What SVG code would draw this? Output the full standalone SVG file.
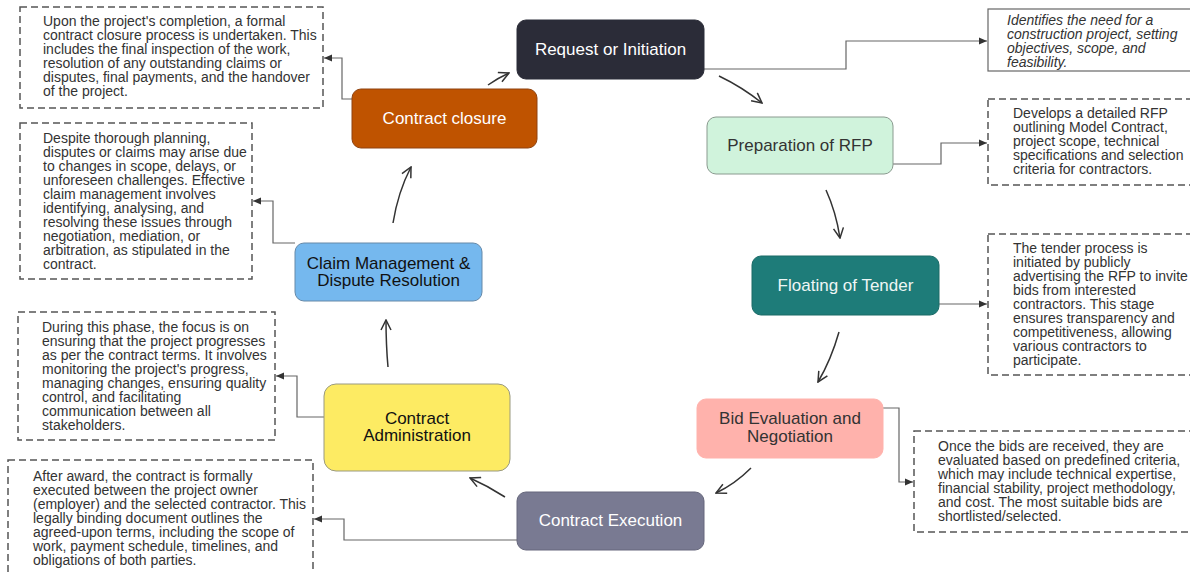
<svg xmlns="http://www.w3.org/2000/svg" width="1190" height="573" viewBox="0 0 1190 573">
<style>
.bg{fill:#ffffff}
.node{stroke-width:1}
.nt{font-family:"Liberation Sans",Arial,sans-serif;font-size:17px;text-anchor:middle}
.note{fill:#ffffff;stroke:#555555;stroke-width:1.5;stroke-dasharray:7,4}
.notes{fill:#ffffff;stroke:#666666;stroke-width:1.2}
.tx{font-family:"Liberation Sans",Arial,sans-serif;font-size:14px;fill:#333333}
.it{font-style:italic}
.link{fill:none;stroke:#666666;stroke-width:1.2;marker-end:url(#tri)}
.flow{fill:none;stroke:#333333;stroke-width:1.5;marker-end:url(#vee)}
</style>
<defs>
<marker id="tri" viewBox="0 0 8 8" refX="8" refY="4" markerWidth="8" markerHeight="8" markerUnits="userSpaceOnUse" orient="auto">
<path d="M0,0.5 L8,4 L0,7.5 Z" fill="#333333"/>
</marker>
<marker id="vee" viewBox="0 0 12 12" refX="11" refY="6" markerWidth="12" markerHeight="12" markerUnits="userSpaceOnUse" orient="auto">
<path d="M1,1 L11,6 L1,11" fill="none" stroke="#333333" stroke-width="1.5"/>
</marker>
</defs>
<rect class="bg" x="0" y="0" width="1190" height="573"/>

<g id="connectors">
<path class="link" d="M704,69 H846 V41 H987"/>
<path class="link" d="M893,164 H941 V143 H987"/>
<path class="link" d="M939,304 H987"/>
<path class="link" d="M883,408 H899 V482 H913"/>
<path class="link" d="M517,540 H344 V519 H314"/>
<path class="link" d="M324,417 H297 V376 H276"/>
<path class="link" d="M295,243 H273 V201 H253"/>
<path class="link" d="M352,99 H342 V58 H324"/>
<path class="flow" d="M719,76 Q742,87 762,103"/>
<path class="flow" d="M826,190 Q836,212 840,238"/>
<path class="flow" d="M839,332 Q831,360 818,382"/>
<path class="flow" d="M751,468 Q735,484 716,493"/>
<path class="flow" d="M505,497 Q488,486 470,478"/>
<path class="flow" d="M388,367 Q386,345 386,320"/>
<path class="flow" d="M393,223 Q398,192 411,167"/>
<path class="flow" d="M488,85 Q498,78 509,73"/>
</g>

<g id="node-request">
<rect class="node" x="517" y="20" width="187" height="59" rx="9" fill="#2b2c38" stroke="#2b2c38"/>
<text class="nt" x="610.5" y="55" fill="#ffffff">Request or Initiation</text>
</g>
<g id="node-rfp">
<rect class="node" x="707" y="117" width="186" height="57" rx="9" fill="#d0f3dc" stroke="#8a9a8f"/>
<text class="nt" x="800" y="151" fill="#333333">Preparation of RFP</text>
</g>
<g id="node-tender">
<rect class="node" x="752" y="256" width="187" height="59" rx="9" fill="#1e7c79" stroke="#1a6a67"/>
<text class="nt" x="845.5" y="291" fill="#eef6f5">Floating of Tender</text>
</g>
<g id="node-bid">
<rect class="node" x="697" y="399" width="186" height="59" rx="9" fill="#ffb2ac" stroke="#ffb2ac"/>
<text class="nt" x="790" y="424" fill="#333333">Bid Evaluation and</text>
<text class="nt" x="790" y="442" fill="#333333">Negotiation</text>
</g>
<g id="node-execution">
<rect class="node" x="517" y="492" width="187" height="58" rx="9" fill="#797a92" stroke="#66677c"/>
<text class="nt" x="610.5" y="526" fill="#ffffff">Contract Execution</text>
</g>
<g id="node-administration">
<rect class="node" x="324" y="384" width="186" height="87" rx="12" fill="#fdeb63" stroke="#999980"/>
<text class="nt" x="417" y="424" fill="#111111">Contract</text>
<text class="nt" x="417" y="441" fill="#111111">Administration</text>
</g>
<g id="node-claim">
<rect class="node" x="295" y="243" width="187" height="58" rx="9" fill="#75b8ee" stroke="#6689a8"/>
<text class="nt" x="388.5" y="269" fill="#111111">Claim Management &amp;</text>
<text class="nt" x="388.5" y="286" fill="#111111">Dispute Resolution</text>
</g>
<g id="node-closure">
<rect class="node" x="352" y="89" width="185" height="59" rx="9" fill="#bf5300" stroke="#8f4310"/>
<text class="nt" x="444.5" y="124" fill="#ffffff">Contract closure</text>
</g>

<g id="note-request">
<rect class="notes" x="988" y="9" width="215" height="62"/>
<text class="tx it" x="1007" y="25">Identifies the need for a</text>
<text class="tx it" x="1007" y="39">construction project, setting</text>
<text class="tx it" x="1007" y="53">objectives, scope, and</text>
<text class="tx it" x="1007" y="67">feasibility.</text>
</g>
<g id="note-rfp">
<rect class="note" x="988" y="99" width="215" height="86"/>
<text class="tx" x="1013" y="118">Develops a detailed RFP</text>
<text class="tx" x="1013" y="132">outlining Model Contract,</text>
<text class="tx" x="1013" y="146">project scope, technical</text>
<text class="tx" x="1013" y="160">specifications and selection</text>
<text class="tx" x="1013" y="174">criteria for contractors.</text>
</g>
<g id="note-tender">
<rect class="note" x="988" y="234" width="215" height="141"/>
<text class="tx" x="1013" y="253">The tender process is</text>
<text class="tx" x="1013" y="267">initiated by publicly</text>
<text class="tx" x="1013" y="281">advertising the RFP to invite</text>
<text class="tx" x="1013" y="295">bids from interested</text>
<text class="tx" x="1013" y="309">contractors. This stage</text>
<text class="tx" x="1013" y="323">ensures transparency and</text>
<text class="tx" x="1013" y="337">competitiveness, allowing</text>
<text class="tx" x="1013" y="351">various contractors to</text>
<text class="tx" x="1013" y="365">participate.</text>
</g>
<g id="note-bid">
<rect class="note" x="914" y="431" width="290" height="101"/>
<text class="tx" x="938" y="451">Once the bids are received, they are</text>
<text class="tx" x="938" y="465">evaluated based on predefined criteria,</text>
<text class="tx" x="938" y="479">which may include technical expertise,</text>
<text class="tx" x="938" y="493">financial stability, project methodology,</text>
<text class="tx" x="938" y="507">and cost. The most suitable bids are</text>
<text class="tx" x="938" y="521">shortlisted/selected.</text>
</g>
<g id="note-execution">
<rect class="note" x="8" y="460" width="305" height="125"/>
<text class="tx" x="33" y="481">After award, the contract is formally</text>
<text class="tx" x="33" y="495">executed between the project owner</text>
<text class="tx" x="33" y="509">(employer) and the selected contractor. This</text>
<text class="tx" x="33" y="523">legally binding document outlines the</text>
<text class="tx" x="33" y="537">agreed-upon terms, including the scope of</text>
<text class="tx" x="33" y="551">work, payment schedule, timelines, and</text>
<text class="tx" x="33" y="565">obligations of both parties.</text>
</g>
<g id="note-administration">
<rect class="note" x="18" y="312" width="257" height="128"/>
<text class="tx" x="42" y="332">During this phase, the focus is on</text>
<text class="tx" x="42" y="346">ensuring that the project progresses</text>
<text class="tx" x="42" y="360">as per the contract terms. It involves</text>
<text class="tx" x="42" y="374">monitoring the project's progress,</text>
<text class="tx" x="42" y="388">managing changes, ensuring quality</text>
<text class="tx" x="42" y="402">control, and facilitating</text>
<text class="tx" x="42" y="416">communication between all</text>
<text class="tx" x="42" y="430">stakeholders.</text>
</g>
<g id="note-claim">
<rect class="note" x="20" y="123" width="232" height="156"/>
<text class="tx" x="43" y="143">Despite thorough planning,</text>
<text class="tx" x="43" y="157">disputes or claims may arise due</text>
<text class="tx" x="43" y="171">to changes in scope, delays, or</text>
<text class="tx" x="43" y="185">unforeseen challenges. Effective</text>
<text class="tx" x="43" y="199">claim management involves</text>
<text class="tx" x="43" y="213">identifying, analysing, and</text>
<text class="tx" x="43" y="227">resolving these issues through</text>
<text class="tx" x="43" y="241">negotiation, mediation, or</text>
<text class="tx" x="43" y="255">arbitration, as stipulated in the</text>
<text class="tx" x="43" y="269">contract.</text>
</g>
<g id="note-closure">
<rect class="note" x="20" y="7" width="303" height="101"/>
<text class="tx" x="43" y="26">Upon the project's completion, a formal</text>
<text class="tx" x="43" y="40">contract closure process is undertaken. This</text>
<text class="tx" x="43" y="54">includes the final inspection of the work,</text>
<text class="tx" x="43" y="68">resolution of any outstanding claims or</text>
<text class="tx" x="43" y="82">disputes, final payments, and the handover</text>
<text class="tx" x="43" y="96">of the project.</text>
</g>
</svg>
